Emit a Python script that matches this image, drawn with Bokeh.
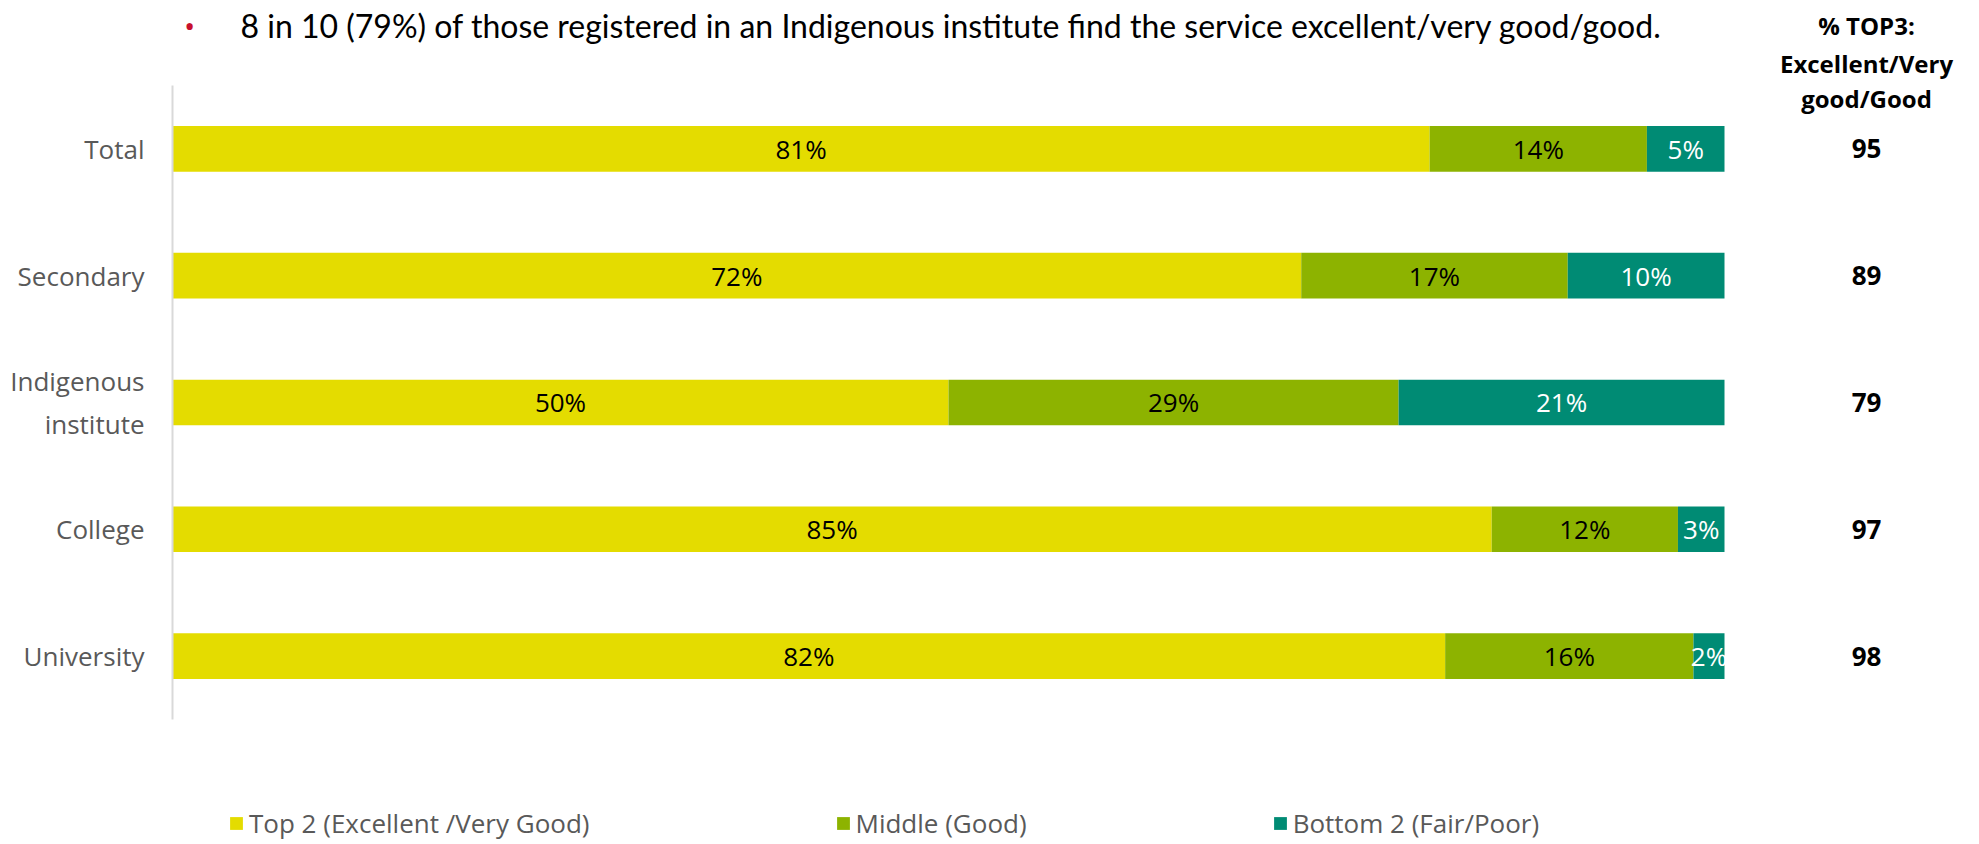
from bokeh.plotting import figure
from bokeh.models import Range1d, FixedTicker, ColumnDataSource, Label, Legend, LegendItem
from bokeh.embed import file_html
from bokeh.resources import INLINE
from bokeh.core.properties import value

# ---- data ----
categories = ["Total", "Secondary", "Indigenous\ninstitute", "College", "University"]
top2 = [81, 72, 50, 85, 82]
middle = [14, 17, 29, 12, 16]
bottom2 = [5, 10, 21, 3, 2]
top3 = [95, 89, 79, 97, 98]
series_names = ["Top 2 (Excellent /Very Good)", "Middle (Good)", "Bottom 2 (Fair/Poor)"]
header_lines = ["% TOP3:", "Excellent/Very", "good/Good"]
headline = "8 in 10 (79%) of those registered in an Indigenous institute find the service excellent/very good/good."

# ---- styles ----
colors = ["#E4DC00", "#8DB300", "#008B74"]
label_colors = ["#000000", "#000000", "#FFFFFF"]
grey = "#595959"
FONT = "Open Sans"

n = len(categories)
ypos = [n - 1 - i for i in range(n)]          # Total on top

p = figure(width=1979, height=844,
           y_range=Range1d(-1.486, n - 0.5 + 0.670),
           x_range=Range1d(0, 116.43),
           output_backend="svg", toolbar_location=None,
           min_border_left=172, min_border_right=0,
           min_border_top=0, min_border_bottom=0)
p.title.visible = False

series = [top2, middle, bottom2]
totals = [sum(v) for v in zip(*series)]
lefts = [0.0] * n
renderers = []
for s, vals in enumerate(series):
    shares = [v / t * 100 for v, t in zip(vals, totals)]
    rights = [l + sh for l, sh in zip(lefts, shares)]
    src = ColumnDataSource(dict(
        y=ypos, left=lefts, right=rights,
        mid=[(l + r) / 2 for l, r in zip(lefts, rights)],
        lab=[f"{v}%" for v in vals]))
    r = p.hbar(y="y", left="left", right="right", height=0.36, source=src,
               fill_color=colors[s], line_color=None)
    renderers.append(r)
    p.text(x="mid", y="y", text="lab", source=src, text_align="center",
           text_baseline="middle", text_font=value(FONT), text_font_size="26px",
           text_color=label_colors[s])
    lefts = rights

# right column values
col_x = 109.15
p.text(x=[col_x] * n, y=ypos, text=[str(v) for v in top3],
       text_align="center", text_baseline="middle", text_font=value(FONT),
       text_font_size="26px", text_font_style="bold", text_color="#000000")

# header lines (above the first row)
top_edge = n - 0.5
for dy, line in zip([0.473, 0.173, -0.103], header_lines):
    p.add_layout(Label(x=col_x, y=top_edge + dy, text=line, text_align="center",
                       text_baseline="middle", text_font=FONT, text_font_size="24px",
                       text_font_style="bold", text_color="#000000"))

# headline with bullet
p.add_layout(Label(x=1.1, y=top_edge + 0.473, text="\u2022", text_align="center",
                   text_baseline="middle", text_font=FONT, text_font_size="30px",
                   text_color="#C8102E"))
p.add_layout(Label(x=4.38, y=top_edge + 0.473, text=headline, text_align="left",
                   text_baseline="middle", text_font="Lato", text_font_size="32px",
                   text_color="#000000"))

# axes
p.xaxis.visible = False
p.grid.visible = False
p.outline_line_color = None
ax = p.yaxis[0]
ax.ticker = FixedTicker(ticks=ypos)
ax.major_label_overrides = {y: c for y, c in zip(ypos, categories)}
ax.bounds = (-0.5, n - 0.5)
ax.axis_line_color = "#D9D9D9"
ax.axis_line_width = 2
ax.major_tick_line_color = None
ax.minor_tick_line_color = None
ax.major_tick_out = 0
ax.major_tick_in = 0
ax.major_label_standoff = 28
ax.major_label_text_font = FONT
ax.major_label_text_font_size = "26px"
ax.major_label_text_color = grey

# legend at the bottom
lg = Legend(items=[LegendItem(label=nm, renderers=[r]) for nm, r in zip(series_names, renderers)],
            location=(56, 3), orientation="horizontal",
            padding=0, margin=0, spacing=245,
            glyph_width=16, glyph_height=16, label_standoff=5,
            label_text_font=FONT, label_text_font_size="26px",
            label_text_color=grey, border_line_color=None,
            background_fill_alpha=0)
p.add_layout(lg, "center")

open("out.html", "w").write(file_html(p, INLINE))
